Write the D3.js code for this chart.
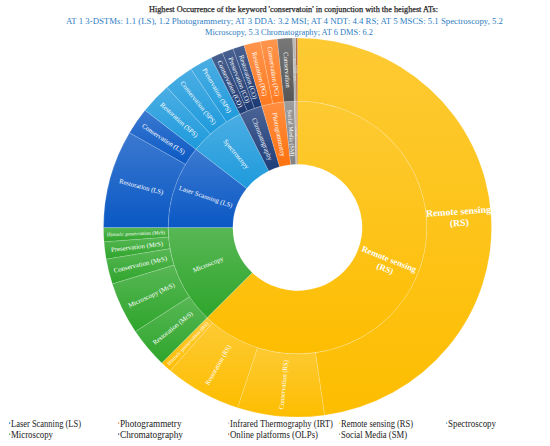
<!DOCTYPE html>
<html>
<head>
<meta charset="utf-8">
<script src="https://cdn.jsdelivr.net/npm/d3@7"></script>
<style>
  body { margin: 0; background: #fff; }
  text { font-family: "Liberation Serif", "DejaVu Serif", serif; }
</style>
</head>
<body>
<svg id="chart" width="550" height="446"></svg>
<script>
/*** DADOS (clockwise a partir das 12h) ***/

// anel interior
const groupKeys = ["RS", "MrS", "LS", "SPS", "CO", "PG", "SM", "IRT", "OLPs"];
const groupNames = ["Remote sensing (RS)", "Microscopy", "Laser Scanning (LS)", "Spectroscopy",
    "Chromatography", "Photogrammetry", "Social Media (SM)", "Infrared thermography (IRT)", "Online platforms (OLPs)"];

// anel exterior, por grupo
const rsLabels = ["Remote sensing (RS)", "Conservation (RS)", "Restoration (RS)", "Historic preservation (RS)"];
const rsValues = [172, 26, 23, 3.4];
const mrsLabels = ["Restoration (MrS)", "Microscopy (MrS)", "Conservation (MrS)", "Preservation (MrS)", "Historic  preservation (MrS)"];
const mrsValues = [12.3, 16, 7.7, 5.3, 4.3];
const lsLabels = ["Restoration (LS)", "Conservation (LS)"];
const lsValues = [30, 8.2];
const spsLabels = ["Restoration (SPS)", "Conservation (SPS)", "Preservation (SPS)"];
const spsValues = [9.5, 9, 6.9];
const coLabels = ["Conservation (CO)", "Preservation (CO)", "Restoration (CO)"];
const coValues = [3.6, 3.4, 3.4];
const pgLabels = ["Restoration (PG)", "Conservation (PG)"];
const pgValues = [5, 5];
const smLabels = ["Conservation"];
const smValues = [4.6];
const irtLabels = ["Historic preservation (IRT)"];
const irtValues = [0.9];
const olpLabels = ["Conservation (OLPs)"];
const olpValues = [0.5];

const titleLines = [
    "Highest Occurrence of the keyword 'conservatoin' in conjunction with the heighest ATs:",
    "AT 1 3-DSTMs: 1.1 (LS), 1.2 Photogrammetry; AT 3 DDA: 3.2 MSI; AT 4 NDT: 4.4 RS; AT 5 MSCS: 5.1 Spectroscopy, 5.2",
    "Microscopy, 5.3 Chromatography; AT 6 DMS: 6.2"
];

const legendNames = ["Laser Scanning (LS)", "Photogrammetry", "Infrared Thermography (IRT)", "Remote sensing (RS)", "Spectroscopy",
    "Microscopy", "Chromatography", "Online platforms (OLPs)", "Social Media (SM)"];
const legendKeys = ["LS", "PG", "IRT", "RS", "SPS", "MrS", "CO", "OLPs", "SM"];

/*** cores ***/
const innerColor = { RS: "#FDBD00", MrS: "#2EA52B", LS: "#0A58C4", SPS: "#1E9ADC", CO: "#1E3D7A",
    PG: "#FF7210", SM: "#838383", IRT: "#B2B2B2", OLPs: "#9E480E" };
const outerColor = { RS: "#FDBD00", MrS: "#2EA52B", LS: "#0A58C4", SPS: "#1E9ADC", CO: "#1C3A74",
    PG: "#FF7A20", SM: "#565656", IRT: "#A9A9A9", OLPs: "#9E480E" };

const childMap = {
    RS: [rsLabels, rsValues], MrS: [mrsLabels, mrsValues], LS: [lsLabels, lsValues],
    SPS: [spsLabels, spsValues], CO: [coLabels, coValues], PG: [pgLabels, pgValues],
    SM: [smLabels, smValues], IRT: [irtLabels, irtValues], OLPs: [olpLabels, olpValues]
};

const tree = {
    name: "root",
    children: groupKeys.map((k, i) => ({
        name: groupNames[i], key: k,
        children: childMap[k][0].map((l, j) => ({ name: l, key: k, value: childMap[k][1][j] }))
    }))
};

/*** DESENHO ***/
const svg = d3.select("#chart");
const cx = 297.5, cy = 227.5, R = 194;

const root = d3.hierarchy(tree).sum(d => d.value || 0);
d3.partition().size([2 * Math.PI, R])(root);

// gradientes (mais claro em cima, como no Excel)
const defs = svg.append("defs");
groupKeys.forEach(k => {
    [["in", innerColor[k]], ["out", outerColor[k]]].forEach(([ring, c]) => {
        const g = defs.append("linearGradient")
            .attr("id", "g-" + k + "-" + ring)
            .attr("x1", 0).attr("y1", 0).attr("x2", 0).attr("y2", 1);
        g.append("stop").attr("offset", 0).attr("stop-color", d3.interpolateRgb(c, "#fff")(0.2));
        g.append("stop").attr("offset", 1).attr("stop-color", c);
    });
});

const arc = d3.arc()
    .startAngle(d => d.x0)
    .endAngle(d => d.x1)
    .innerRadius(d => d.y0)
    .outerRadius(d => d.y1);

const chart = svg.append("g")
    .attr("transform", "translate(" + cx + "," + cy + ") scale(1,0.977)");

const nodes = root.descendants().filter(d => d.depth > 0);

chart.selectAll("path")
    .data(nodes)
    .enter()
    .append("path")
    .attr("d", arc)
    .attr("fill", d => "url(#g-" + d.data.key + "-" + (d.depth == 1 ? "in" : "out") + ")")
    .attr("stroke", "rgba(255,255,255,0.28)")
    .attr("stroke-width", 0.6);

// labels radiais
const labels = chart.selectAll("text.lbl")
    .data(nodes)
    .enter()
    .append("text")
    .attr("class", "lbl")
    .attr("fill", "#fff")
    .attr("text-anchor", "middle")
    .attr("transform", d => {
        const a = (d.x0 + d.x1) / 2 * 180 / Math.PI;
        const r = (d.y0 + d.y1) / 2;
        return "rotate(" + (a - 90) + ") translate(" + r + ",0) rotate(" + (a < 180 ? 0 : 180) + ")";
    });

labels.each(function (d) {
    const t = d3.select(this);
    const big = (d.x1 - d.x0) > 1.5;
    if (big) {
        // "Remote sensing (RS)" em duas linhas
        const fs = d.depth == 2 ? 9.8 : 8.8;
        t.attr("font-size", fs).attr("font-weight", "bold");
        t.append("tspan").attr("x", 0).attr("dy", "-0.2em").text("Remote sensing");
        t.append("tspan").attr("x", 0).attr("dy", "1.2em").text("(RS)");
        return;
    }
    const base = 6.8;
    t.attr("font-size", base).attr("dy", "0.35em").text(d.data.name);
    const len = this.getComputedTextLength();
    const maxLen = (d.y1 - d.y0) * 0.9;
    const arcW = (d.x1 - d.x0) * (d.y0 + d.y1) / 2;
    const fs = Math.min(base, base * maxLen / len, arcW * 0.8);
    t.attr("font-size", fs);
});

// título
const titleX = [293.5, 284.5, 289];
const titleW = [289, 437, 168];
svg.selectAll("text.title")
    .data(titleLines)
    .enter()
    .append("text")
    .attr("class", "title")
    .attr("x", (d, i) => titleX[i])
    .attr("y", (d, i) => [11.5, 23.5, 34.5][i])
    .attr("text-anchor", "middle")
    .attr("font-size", (d, i) => i == 0 ? 8.4 : 9)
    .attr("textLength", (d, i) => titleW[i])
    .attr("lengthAdjust", "spacingAndGlyphs")
    .attr("fill", (d, i) => i == 0 ? "#262626" : "#2E7DC2")
    .attr("stroke", (d, i) => i == 0 ? "#262626" : "none")
    .attr("stroke-width", 0.25)
    .text(d => d);

// legenda
const legX = [11, 120, 230, 341, 448];
const legW = [70, 61.5, 103, 72, 48, 42, 63, 88, 66];
const leg = svg.selectAll("g.leg")
    .data(legendNames)
    .enter()
    .append("g")
    .attr("class", "leg")
    .attr("transform", (d, i) => "translate(" + legX[i % 5] + "," + (i < 5 ? 426.5 : 437.5) + ")");

leg.append("rect")
    .attr("x", -2).attr("y", -4)
    .attr("width", 1.2).attr("height", 1.2)
    .attr("fill", (d, i) => innerColor[legendKeys[i]]);

leg.append("text")
    .attr("font-size", 10)
    .attr("fill", "#222")
    .attr("textLength", (d, i) => legW[i])
    .attr("lengthAdjust", "spacingAndGlyphs")
    .text(d => d);
</script>
</body>
</html>
